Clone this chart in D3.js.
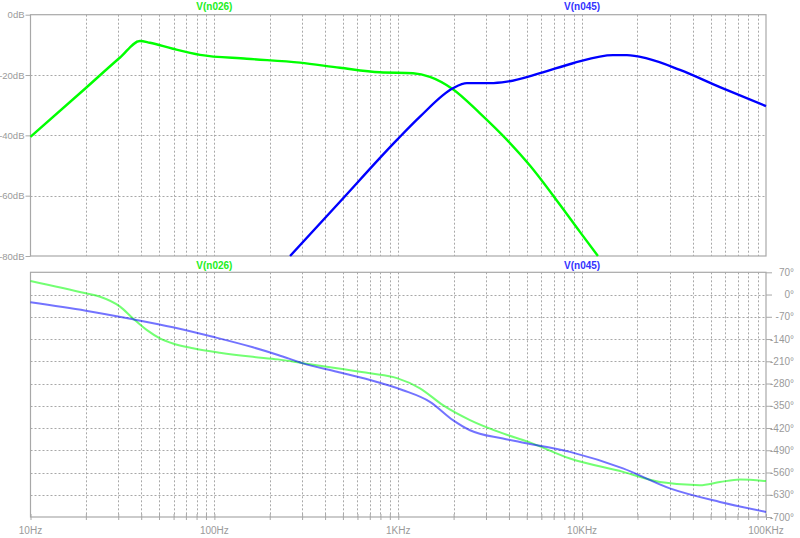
<!DOCTYPE html>
<html><head><meta charset="utf-8">
<script src="https://cdn.jsdelivr.net/npm/d3@7"></script>
<style>
html,body{margin:0;padding:0;background:#fff;}
svg{display:block;font-family:"Liberation Sans",Arial,sans-serif;}
</style></head>
<body>
<svg id="c" width="800" height="538"></svg>
<script>
// ---------- data ----------
const xTickValues = [10, 100, 1000, 10000, 100000];
const xTickLabels = ["10Hz", "100Hz", "1KHz", "10KHz", "100KHz"];
const magTickValues = [0, -20, -40, -60, -80];
const phaseTickValues = [70, 0, -70, -140, -210, -280, -350, -420, -490, -560, -630, -700];
const seriesNames = ["V(n026)", "V(n045)"];
const seriesColors = ["#00ff00", "#0000ff"];

// magnitude (dB)
const n026MagFreq = [10, 20, 30.7, 39.4, 44.6, 59.5, 83.5, 150, 292, 482, 795, 1203, 1487, 1983, 2783, 3902, 5200, 7576, 9727, 12190];
const n026MagDb   = [-40.5, -24.3, -14.2, -8.7, -9.3, -11.3, -13.3, -14.6, -15.9, -17.6, -19.1, -19.4, -20.6, -24.7, -32.7, -41.5, -50, -63, -72, -80];
const n045MagFreq = [258, 482, 984, 1313, 1983, 2364, 3154, 3902, 5900, 8912, 14720, 17530, 22500, 34040, 56150, 100000];
const n045MagDb   = [-80, -62, -41.5, -33.8, -24.4, -22.7, -22.7, -22.2, -19.4, -16.1, -13.4, -13.4, -14.5, -18.3, -24, -30.3];

// phase (degrees)
const n026PhFreq = [10, 20, 23.9, 30.7, 36.1, 43, 50.6, 59.5, 76.5, 107, 162, 222, 303, 464, 702, 984, 1313, 1750, 2455, 3710, 5072, 8590, 16680, 26480, 43730, 56150, 72140, 100000];
const n026PhDeg  = [42.6, 3.8, -6.9, -38, -75, -112, -138, -154, -169, -183, -196, -204, -216, -232, -248, -263, -295, -348, -395, -437, -463, -516, -558, -590, -600, -590, -582, -587];
const n045PhFreq = [10, 20, 36.1, 59.5, 98, 162, 222, 303, 464, 702, 1061, 1487, 1983, 2455, 3710, 4590, 8590, 16680, 30000, 56150, 100000];
const n045PhDeg  = [-24.5, -51, -78, -103, -133, -166, -190, -216.6, -243, -269, -301, -337.6, -395, -427, -453, -464, -495, -547, -610, -652.6, -684];

// ---------- layout ----------
const svg = d3.select("#c");
const X0 = 30.5, X1 = 766;
const topY0 = 14.7, topY1 = 256;
const botY0 = 272.3, botY1 = 517;
const gridCol = "#a8a8a8", axisCol = "#a8a8a8", textCol = "#9a9a9a";

const x = d3.scaleLog().domain([10, 100000]).range([X0, X1]);
const yMag = d3.scaleLinear().domain([-80, 0]).range([topY1, topY0]);
const yPh = d3.scaleLinear().domain([-700, 70]).range([botY1, botY0]);

// minor frequency grid values
const gridFreqs = [];
for (let d = 10; d < 100000; d *= 10) for (let m = 1; m <= 9; m++) { const f = d * m; if (f > 10) gridFreqs.push(f); }

function drawPane(y0, y1) {
  const g = svg.append("g");
  g.selectAll("line.v").data(gridFreqs.filter(f => f < 100000)).enter().append("line")
    .attr("x1", d => Math.round(x(d)) + 0.5).attr("x2", d => Math.round(x(d)) + 0.5)
    .attr("y1", y0).attr("y2", y1)
    .attr("stroke", gridCol).attr("stroke-width", 1).attr("stroke-dasharray", "2,2");
  g.append("rect").attr("x", X0).attr("y", y0).attr("width", X1 - X0).attr("height", y1 - y0)
    .attr("fill", "none").attr("stroke", axisCol).attr("stroke-width", 1.2);
  return g;
}

// ---------- top pane (magnitude) ----------
const gTop = drawPane(topY0, topY1);
gTop.selectAll("line.h").data(magTickValues.filter(v => v > -80 && v < 0)).enter().append("line")
  .attr("x1", X0).attr("x2", X1).attr("y1", d => Math.round(yMag(d)) + 0.5).attr("y2", d => Math.round(yMag(d)) + 0.5)
  .attr("stroke", gridCol).attr("stroke-dasharray", "2,2");
const magAxis = d3.axisLeft(yMag).tickValues(magTickValues).tickSize(5).tickPadding(1).tickFormat(d => d + "dB");
const gMagAxis = svg.append("g").attr("transform", `translate(${X0},0)`).call(magAxis);
gMagAxis.select(".domain").remove();
gMagAxis.selectAll("line").attr("stroke", axisCol);
gMagAxis.selectAll("text").attr("fill", textCol).style("font-size", "9.5px").attr("font-family", null);

const lineMag = d3.line().x(d => x(d[0])).y(d => yMag(d[1])).curve(d3.curveMonotoneX);
const magSeries = [d3.zip(n026MagFreq, n026MagDb), d3.zip(n045MagFreq, n045MagDb)];
magSeries.forEach((s, i) => {
  svg.append("path").datum(s).attr("d", lineMag).attr("fill", "none")
    .attr("stroke", seriesColors[i]).attr("stroke-width", 2.4).attr("stroke-linejoin", "round");
});

// ---------- bottom pane (phase) ----------
const gBot = drawPane(botY0, botY1);
gBot.selectAll("line.h").data(phaseTickValues.filter(v => v > -700 && v < 70)).enter().append("line")
  .attr("x1", X0).attr("x2", X1).attr("y1", d => Math.round(yPh(d)) + 0.5).attr("y2", d => Math.round(yPh(d)) + 0.5)
  .attr("stroke", gridCol).attr("stroke-dasharray", "2,2");
const phAxis = d3.axisRight(yPh).tickValues(phaseTickValues).tickSize(6).tickPadding(3).tickFormat(d => d + "°");
const gPhAxis = svg.append("g").attr("transform", `translate(${X1},0)`).call(phAxis);
gPhAxis.select(".domain").remove();
gPhAxis.selectAll("line").attr("stroke", axisCol);
gPhAxis.selectAll("text").attr("fill", textCol).style("font-size", "10px").attr("font-family", null)
  .attr("text-anchor", "end").attr("x", 28);

const xAxis = d3.axisBottom(x).tickValues(gridFreqs.concat([10, 100000])).tickSize(3).tickFormat(() => "");
const gX = svg.append("g").attr("transform", `translate(0,${botY1})`).call(xAxis);
gX.select(".domain").remove();
gX.selectAll("line").attr("stroke", axisCol).attr("y1", -3);
svg.append("g").selectAll("text").data(xTickValues).enter().append("text")
  .attr("x", d => x(d)).attr("y", 534).attr("text-anchor", "middle")
  .attr("fill", textCol).style("font-size", "10px").text((d, i) => xTickLabels[i]);

const linePh = d3.line().x(d => x(d[0])).y(d => yPh(d[1])).curve(d3.curveMonotoneX);
const phSeries = [d3.zip(n026PhFreq, n026PhDeg), d3.zip(n045PhFreq, n045PhDeg)];
phSeries.forEach((s, i) => {
  svg.append("path").datum(s).attr("d", linePh).attr("fill", "none")
    .attr("stroke", seriesColors[i]).attr("stroke-opacity", 0.55).attr("stroke-width", 2);
});

// ---------- legends ----------
const legendX = [100, 10000];
[10, 269].forEach(yy => {
  seriesNames.forEach((n, i) => {
    svg.append("text").attr("x", x(legendX[i])).attr("y", yy).attr("text-anchor", "middle")
      .attr("fill", i === 0 ? "#22ee22" : "#3333ff").style("font-size", "10px").style("font-weight", "bold").text(n);
  });
});
</script>
</body></html>
